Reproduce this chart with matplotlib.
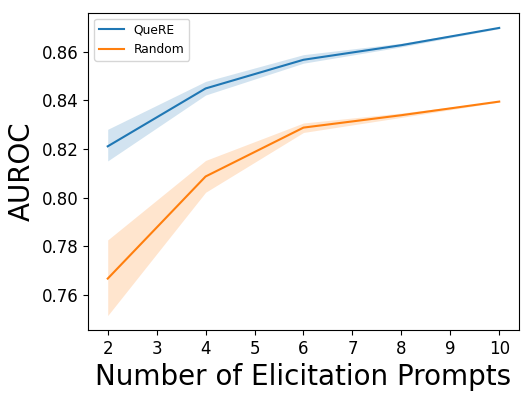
import numpy as np
import matplotlib
matplotlib.use("Agg")
import matplotlib.pyplot as plt

# Number of elicitation prompts
prompts = [2, 4, 6, 8, 10]

# QueRE: mean AUROC and band limits
quere_mean = [0.8211, 0.8449, 0.8567, 0.8627, 0.8698]
quere_low = [0.8151, 0.8422, 0.8553, 0.8620, 0.8695]
quere_high = [0.8281, 0.8478, 0.8588, 0.8635, 0.8701]

# Random: mean AUROC and band limits
random_mean = [0.7667, 0.8087, 0.8288, 0.8339, 0.8395]
random_low = [0.7515, 0.8022, 0.8268, 0.8330, 0.8393]
random_high = [0.7826, 0.8153, 0.8307, 0.8348, 0.8397]

fig = plt.figure(figsize=(5.31, 3.99), dpi=100)
ax = fig.add_axes([0.166, 0.173, 0.811, 0.795])

ax.plot(prompts, quere_mean, color='tab:blue', linewidth=1.5, label='QueRE')
ax.fill_between(prompts, quere_low, quere_high, color='tab:blue', alpha=0.2, linewidth=0)
ax.plot(prompts, random_mean, color='tab:orange', linewidth=1.5, label='Random')
ax.fill_between(prompts, random_low, random_high, color='tab:orange', alpha=0.2, linewidth=0)

ax.set_xticks(range(2, 11))
ax.tick_params(labelsize=12)
ax.set_xlabel('Number of Elicitation Prompts', fontsize=20)
ax.set_ylabel('AUROC', fontsize=20)
ax.legend(loc='upper left', fontsize=8.8)

plt.savefig('out.png', dpi=100)
